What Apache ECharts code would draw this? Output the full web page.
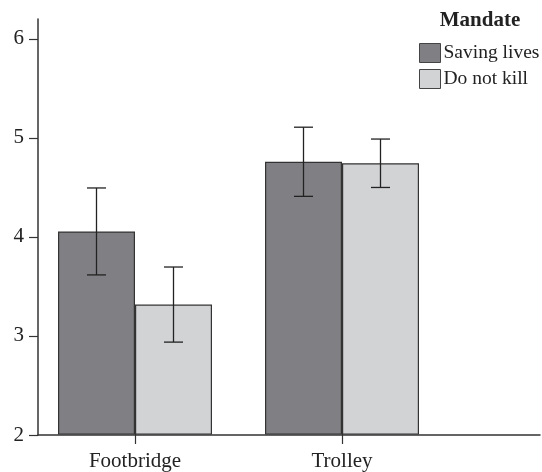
<!DOCTYPE html>
<html>
<head>
<meta charset="utf-8">
<script src="https://cdn.jsdelivr.net/npm/echarts@6/dist/echarts.min.js"></script>
<style>html,body{margin:0;padding:0;background:#fff}#c{width:542px;height:472px}</style>
</head>
<body>
<div id="c"></div>
<script>
var categories = ['Footbridge', 'Trolley'];
var seriesNames = ['Saving lives', 'Do not kill'];
var savingLives = [4.05, 4.755];
var doNotKill = [3.31, 4.74];
var savingLivesErr = [0.44, 0.35];
var doNotKillErr = [0.38, 0.245];
var yTicks = [2, 3, 4, 5, 6];
var legendTitle = 'Mandate';

var FONT = '"Liberation Serif", "DejaVu Serif", serif';
var BAR_W = 77;

function errSeries(vals, errs, offset) {
  return {
    type: 'custom',
    xAxisIndex: 0, yAxisIndex: 0,
    z: 5,
    silent: true,
    data: vals.map(function (v, i) { return [i, v - errs[i], v + errs[i]]; }),
    renderItem: function (params, api) {
      var lo = api.coord([api.value(0), api.value(1)]);
      var hi = api.coord([api.value(0), api.value(2)]);
      var x = lo[0] + offset;
      var cap = 9.5;
      var st = { stroke: '#222', lineWidth: 1.3 };
      return {
        type: 'group',
        children: [
          { type: 'line', shape: { x1: x, y1: lo[1], x2: x, y2: hi[1] }, style: st },
          { type: 'line', shape: { x1: x - cap, y1: lo[1], x2: x + cap, y2: lo[1] }, style: st },
          { type: 'line', shape: { x1: x - cap, y1: hi[1], x2: x + cap, y2: hi[1] }, style: st }
        ]
      };
    }
  };
}

var chart = echarts.init(document.getElementById('c'), null, { renderer: 'canvas' });
chart.setOption({
  animation: false,
  backgroundColor: '#fff',
  title: {
    text: legendTitle,
    left: 480, top: 10, textAlign: 'center', padding: 0,
    textStyle: { fontFamily: FONT, fontSize: 21, fontWeight: 'bold', color: '#222' }
  },
  legend: {
    orient: 'vertical',
    left: 419, top: 43, padding: 0,
    itemWidth: 21, itemHeight: 19, itemGap: 6,
    icon: 'rect',
    itemStyle: { borderWidth: 1, borderColor: '#444' },
    textStyle: { fontFamily: FONT, fontSize: 19.5, color: '#222', padding: [0, 0, 0, -2] },
    data: seriesNames
  },
  grid: [
    { left: 31.5, right: 96.5, top: 19, bottom: 37 },
    { left: 38, right: 2, top: 19, bottom: 37 }
  ],
  xAxis: [
    {
      type: 'category', gridIndex: 0, data: categories,
      axisLine: { show: false },
      axisTick: { show: true, alignWithLabel: true, length: 10, lineStyle: { color: '#333', width: 1.2 } },
      axisLabel: { fontFamily: FONT, fontSize: 21, color: '#222', margin: 17 }
    },
    {
      type: 'value', gridIndex: 1, min: 0, max: 1,
      axisLine: { show: true, lineStyle: { color: '#333', width: 1.5 } },
      axisTick: { show: false }, axisLabel: { show: false }, splitLine: { show: false }
    }
  ],
  yAxis: [
    {
      type: 'value', gridIndex: 0, min: 2, max: 6.2,
      show: false, splitLine: { show: false }
    },
    {
      type: 'value', gridIndex: 1, min: 2, max: 6.2,
      axisLine: { show: true, lineStyle: { color: '#333', width: 1.5 } },
      axisTick: { show: true, length: 9, customValues: yTicks, lineStyle: { color: '#333', width: 1.2 } },
      axisLabel: { fontFamily: FONT, fontSize: 21, color: '#222', margin: 14, customValues: yTicks },
      splitLine: { show: false }
    }
  ],
  series: [
    {
      name: seriesNames[0], type: 'bar', xAxisIndex: 0, yAxisIndex: 0,
      data: savingLives, barWidth: BAR_W, barGap: '0%',
      itemStyle: { color: '#808084', borderColor: '#333', borderWidth: 1.2 }
    },
    {
      name: seriesNames[1], type: 'bar', xAxisIndex: 0, yAxisIndex: 0,
      data: doNotKill, barWidth: BAR_W, barGap: '0%',
      itemStyle: { color: '#d2d3d5', borderColor: '#333', borderWidth: 1.2 }
    },
    errSeries(savingLives, savingLivesErr, -BAR_W / 2),
    errSeries(doNotKill, doNotKillErr, BAR_W / 2)
  ]
});
</script>
</body>
</html>
